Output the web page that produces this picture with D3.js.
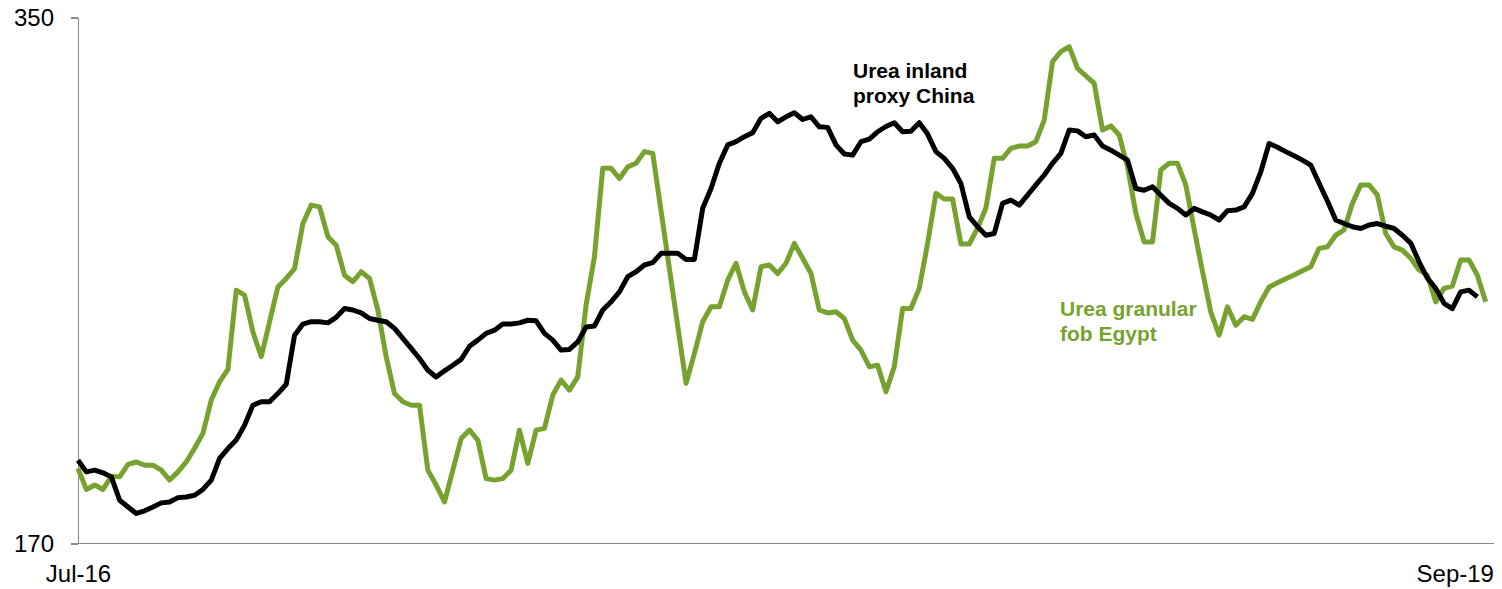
<!DOCTYPE html>
<html>
<head>
<meta charset="utf-8">
<script src="https://cdn.jsdelivr.net/npm/d3@7"></script>
<style>
  body { margin: 0; background: #fff; }
  svg { display: block; font-family: Arial, "Liberation Sans", sans-serif; }
  .axis path, .axis line { stroke: #898989; stroke-width: 1.5; shape-rendering: crispEdges; }
  .axis text { font-size: 24px; fill: #000; }
  .label { font-size: 21px; font-weight: bold; }
</style>
</head>
<body>
<svg width="1502" height="589"></svg>
<script>
// **** Data (weekly) ****

var startDate = Date.UTC(2016, 6, 1);
var axisWeeks = 170;

// Urea granular fob Egypt
var egypt = [
  195.7, 188.5, 190.0, 188.5, 193.0, 192.8, 197.1, 197.9, 196.8, 196.8,
  195.1, 191.7, 194.5, 197.9, 202.6, 207.7, 219.1, 225.3, 229.6, 256.7,
  255.0, 242.4, 233.9, 245.9, 257.8, 260.7, 264.1, 279.5, 285.8, 285.2,
  275.0, 272.1, 261.8, 259.6, 263.0, 260.7, 249.9, 233.9, 221.3, 218.5,
  217.3, 217.3, 195.1, 190.0, 184.2, 195.1, 205.9, 208.8, 205.4, 192.2,
  191.7, 192.2, 195.1, 208.8, 197.4, 208.8, 209.4, 220.8, 225.9, 222.5,
  227.0, 251.6, 268.1, 298.4, 298.4, 294.9, 298.9, 300.1, 304.1, 303.5,
  283.8, 264.1, 244.5, 224.8, 235.0, 245.9, 251.0, 251.0, 260.1, 265.9,
  256.1, 249.9, 264.7, 265.3, 262.4, 265.9, 272.7, 267.6, 262.4, 249.9,
  248.9, 249.3, 247.0, 239.6, 236.2, 230.5, 231.0, 221.9, 230.5, 250.4,
  250.4, 257.3, 272.7, 289.8, 287.9, 287.9, 272.5, 272.5, 277.9, 284.8,
  301.8, 301.8, 305.2, 306.0, 306.0, 307.5, 314.9, 334.9, 338.3, 340.0,
  332.6, 330.0, 327.5, 311.5, 312.9, 309.8, 298.9, 283.0, 273.2, 273.2,
  297.8, 300.1, 300.1, 292.7, 277.6, 263.2, 249.2, 241.3, 251.0, 244.7,
  247.6, 246.7, 252.7, 257.8, 259.2, 260.6, 261.9, 263.3, 264.7, 271.0,
  271.5, 275.5, 277.3, 286.4, 292.7, 292.7, 289.2, 276.1, 271.5, 270.4,
  267.6, 263.6, 261.8, 252.7, 257.3, 258.1, 267.0, 267.0, 261.8, 252.7
];

// Urea inland proxy China
var china = [
  198.5, 194.5, 195.1, 194.2, 192.8, 184.8, 182.5, 180.3, 181.2, 182.5,
  183.9, 184.2, 185.7, 185.9, 186.5, 188.5, 191.7, 199.1, 202.5, 205.4,
  210.5, 217.3, 218.5, 218.5, 221.3, 224.5, 241.3, 245.1, 245.9, 245.9,
  245.5, 247.4, 250.4, 249.9, 248.9, 247.0, 246.4, 245.9, 243.6, 240.2,
  236.8, 233.3, 229.3, 227.0, 229.1, 231.0, 233.0, 237.5, 239.6, 241.9,
  243.0, 245.1, 245.1, 245.5, 246.4, 246.2, 241.9, 239.6, 236.2, 236.4,
  239.0, 244.1, 244.4, 249.9, 252.7, 256.1, 261.3, 263.0, 265.3, 266.1,
  269.3, 269.3, 269.3, 267.2, 267.2, 284.7, 291.5, 300.1, 306.4, 307.5,
  309.2, 310.6, 315.5, 317.2, 314.3, 316.0, 317.4, 315.1, 316.0, 312.6,
  312.4, 306.4, 303.3, 302.9, 307.5, 308.4, 310.9, 312.7, 314.0, 310.9,
  311.1, 314.0, 310.1, 304.1, 301.8, 298.4, 293.2, 281.8, 278.4, 275.5,
  276.1, 286.4, 287.5, 285.8, 289.2, 292.7, 296.1, 300.1, 303.5, 311.5,
  311.2, 309.2, 309.8, 306.0, 304.6, 302.9, 301.2, 291.5, 290.9, 292.1,
  289.2, 286.4, 284.7, 282.4, 284.7, 283.5, 282.4, 280.7, 283.9, 284.1,
  285.2, 289.8, 297.2, 306.9, 305.6, 304.1, 302.7, 301.2, 299.5, 293.3,
  287.2, 280.7, 279.5, 278.4, 277.8, 279.0, 279.5, 278.6, 277.8, 275.5,
  272.8, 266.4, 260.8, 257.3, 252.2, 250.4, 256.1, 256.7, 254.4
];

var yTicks = [170, 350];
var xTickDates = [Date.UTC(2016, 6, 1), Date.UTC(2019, 8, 1)];

var seriesLabels = [
  { name: 'egypt', lines: ['Urea granular', 'fob Egypt'], color: '#78a22f' },
  { name: 'china', lines: ['Urea inland', 'proxy China'], color: '#000000' }
];

// **** Scales and axes ****

function weekDate(i) {
    return d3.utcDay.offset(new Date(startDate), i * 7);
}

var xScale = d3.scaleUtc()
    .domain([weekDate(0), weekDate(axisWeeks)]).range([78, 1494]);

var yScale = d3.scaleLinear()
    .domain([170, 350]).range([543.5, 17.5]);

var svg = d3.select('svg');

svg.append('g').attr('class', 'x axis')
    .attr('transform', 'translate(0,543.5)')
    .call(d3.axisBottom(xScale)
        .tickValues(xTickDates.map(function(d){ return new Date(d); }))
        .tickFormat(d3.utcFormat('%b-%y'))
        .tickSizeInner(0).tickSizeOuter(0).tickPadding(21));

svg.append('g').attr('class', 'y axis')
    .attr('transform', 'translate(78,0)')
    .call(d3.axisLeft(yScale).tickValues(yTicks)
        .tickSizeInner(7).tickSizeOuter(0).tickPadding(17));

// extend x axis line left to meet the 170 tick
svg.select('.x.axis .domain').attr('d', 'M71,0H1494');

// **** Lines ****

var line = d3.line()
    .x(function(d, i){ return xScale(weekDate(i)); })
    .y(function(d){ return yScale(d); });

svg.append('path')
    .datum(egypt)
    .attr('fill', 'none')
    .attr('stroke', seriesLabels[0].color)
    .attr('stroke-width', 5)
    .attr('stroke-linejoin', 'round')
    .attr('d', line);

svg.append('path')
    .datum(china)
    .attr('fill', 'none')
    .attr('stroke', seriesLabels[1].color)
    .attr('stroke-width', 5)
    .attr('stroke-linejoin', 'round')
    .attr('d', line);

// **** Series labels ****

var labelPos = { egypt: [1060, 316], china: [853, 78] };

seriesLabels.forEach(function(s) {
    var t = svg.append('text')
        .attr('class', 'label')
        .attr('fill', s.color)
        .attr('x', labelPos[s.name][0])
        .attr('y', labelPos[s.name][1]);
    s.lines.forEach(function(txt, k) {
        t.append('tspan')
            .attr('x', labelPos[s.name][0])
            .attr('dy', k === 0 ? 0 : 25)
            .text(txt);
    });
});
</script>
</body>
</html>
